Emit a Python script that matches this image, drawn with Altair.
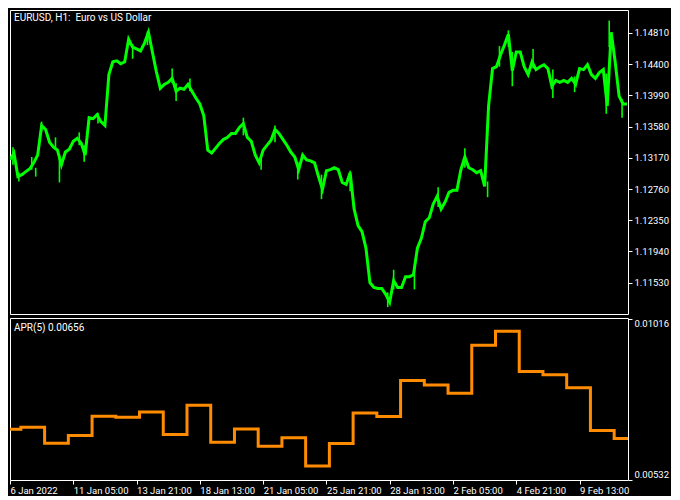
import altair as alt
import pandas as pd

# ---------------- data ----------------
symbol_title = "EURUSD, H1:\u00a0 Euro vs US Dollar"
indicator_name = "APR(5)"

# hourly bar index (1 bar = 1 hour of trading) sampled every 4 bars
price_bars = list(range(0, 625, 4))
price_values = [
    1.13143, 1.13233, 1.12923, 1.12949, 1.12988, 1.13026, 1.13104, 1.13207, 1.13594, 1.13542,
    1.13375, 1.13310, 1.13271, 1.13078, 1.13246, 1.13284, 1.13388, 1.13426, 1.13362, 1.13207,
    1.13697, 1.13684, 1.13736, 1.13645, 1.13594, 1.14264, 1.14432, 1.14445, 1.14406, 1.14432,
    1.14728, 1.14625, 1.14600, 1.14574, 1.14677, 1.14819, 1.14561, 1.14303, 1.14084, 1.14135,
    1.14161, 1.14213, 1.14045, 1.14084, 1.14071, 1.14135, 1.14045, 1.13955, 1.13878, 1.13723,
    1.13271, 1.13233, 1.13297, 1.13362, 1.13413, 1.13439, 1.13491, 1.13491, 1.13568, 1.13620,
    1.13439, 1.13388, 1.13207, 1.13104, 1.13271, 1.13336, 1.13400, 1.13542, 1.13491, 1.13413,
    1.13336, 1.13246, 1.13181, 1.13014, 1.13207, 1.13143, 1.13130, 1.13104, 1.12923, 1.12756,
    1.13001, 1.13014, 1.13039, 1.13014, 1.12846, 1.12820, 1.12975, 1.12498, 1.12279, 1.12201,
    1.11982, 1.11531, 1.11467, 1.11453, 1.11453, 1.11376, 1.11273, 1.11557, 1.11467, 1.11467,
    1.11608, 1.11608, 1.11634, 1.11982, 1.12111, 1.12330, 1.12382, 1.12562, 1.12666, 1.12498,
    1.12588, 1.12717, 1.12743, 1.12743, 1.13014, 1.13181, 1.13039, 1.13014, 1.12975, 1.13001,
    1.12795, 1.13852, 1.14342, 1.14367, 1.14522, 1.14651, 1.14793, 1.14316, 1.14561, 1.14561,
    1.14367, 1.14264, 1.14432, 1.14329, 1.14367, 1.14393, 1.14342, 1.14110, 1.14187, 1.14161,
    1.14187, 1.14161, 1.14213, 1.14135, 1.14342, 1.14329, 1.14393, 1.14264, 1.14213, 1.14290,
    1.14329, 1.13852, 1.14819, 1.14432, 1.13981, 1.13878, 1.13878,
]
# individual hourly bars with long wicks (bar index, low, high)
wick_bars = [3, 9, 22, 26, 32, 46, 50, 70, 75, 89, 124, 139, 164, 168, 182, 236, 254, 268,
             291, 315, 344, 382, 388, 409, 433, 460, 483, 495, 504, 508, 529, 549, 571, 603,
             606, 619]
wick_lows = [1.13078, 1.12859, 1.13014, 1.12923, 1.13517, 1.13271, 1.12846, 1.13336, 1.13117,
             1.13620, 1.14471, 1.14651, 1.14148, 1.13916, 1.14045, 1.13465, 1.13014, 1.13375,
             1.12885, 1.12627, 1.12730, 1.11209, 1.11441, 1.11441, 1.12524, 1.13039, 1.12653,
             1.14367, 1.14625, 1.14110, 1.14342, 1.13955, 1.14032, 1.13749, 1.14625, 1.13697]
wick_highs = [1.13310, 1.12975, 1.13181, 1.13039, 1.13645, 1.13439, 1.13207, 1.13504, 1.13336,
              1.13761, 1.14664, 1.14832, 1.14342, 1.14148, 1.14213, 1.13697, 1.13207, 1.13594,
              1.13117, 1.12949, 1.13001, 1.11402, 1.11699, 1.11724, 1.12782, 1.13297, 1.12859,
              1.14638, 1.14845, 1.14561, 1.14600, 1.14329, 1.14239, 1.14277, 1.14973, 1.13942]
price_ticks = [1.11530, 1.11940, 1.12350, 1.12760, 1.13170, 1.13580, 1.13990, 1.14400, 1.14810]
price_domain = [1.11118, 1.15112]

# APR(5): one value per trading day, starting at the day boundary bar
apr_start_bars = [0, 11, 35, 59, 83, 107, 131, 155, 179, 203, 227, 251, 275, 299, 323,
                  347, 371, 395, 419, 443, 467, 491, 515, 539, 563, 587, 611]
apr_values = [0.00684, 0.00690, 0.00642, 0.00665, 0.00723, 0.00720, 0.00736, 0.00668, 0.00756,
              0.00645, 0.00685, 0.00633, 0.00658, 0.00573, 0.00641, 0.00733, 0.00722, 0.00831,
              0.00817, 0.00792, 0.00937, 0.00979, 0.00858, 0.00848, 0.00809, 0.00680, 0.00656]
apr_last_bar = 625
apr_ticks = [0.00532, 0.01016]
apr_domain = [0.00531, 0.01019]

time_tick_bars = [0, 64, 128, 192, 256, 320, 384, 448, 512, 576]
time_tick_labels = ["6 Jan 2022", "11 Jan 05:00", "13 Jan 21:00", "18 Jan 13:00", "21 Jan 05:00",
                    "25 Jan 21:00", "28 Jan 13:00", "2 Feb 05:00", "4 Feb 21:00", "9 Feb 13:00"]
bar_domain = [0, 625]

# ---------------- chart ----------------
FONT = "Roboto"
W, H1, H2 = 618, 304, 162
GREEN = "#00FF00"
ORANGE = "#FF8C00"

x_scale = alt.Scale(domain=bar_domain, nice=False, zero=False)
p_scale = alt.Scale(domain=price_domain, nice=False, zero=False)
price_axis = alt.Axis(orient="right", values=price_ticks, format=".5f", title=None,
                      labelOverlap=False)

price_df = pd.DataFrame({"bar": price_bars, "price": price_values})
wick_df = pd.DataFrame({"bar": wick_bars, "low": wick_lows, "high": wick_highs})
apr_df = pd.DataFrame({"bar": apr_start_bars + [apr_last_bar],
                       "apr": apr_values + [apr_values[-1]]})

label_expr = ("[" + ",".join("'" + s + "'" for s in time_tick_labels) + "][indexof(["
              + ",".join(str(b) for b in time_tick_bars) + "], datum.value)]")

price_line = alt.Chart(price_df).mark_line(color=GREEN, strokeWidth=3, clip=True).encode(
    x=alt.X("bar:Q", scale=x_scale, axis=None),
    y=alt.Y("price:Q", scale=p_scale, axis=price_axis),
)
wicks = alt.Chart(wick_df).mark_rule(color=GREEN, strokeWidth=1.6, clip=True).encode(
    x=alt.X("bar:Q", scale=x_scale, axis=None),
    y=alt.Y("low:Q", scale=p_scale, axis=price_axis),
    y2="high:Q",
)
top_title = alt.Chart(pd.DataFrame({"t": [symbol_title]})).mark_text(
    align="left", baseline="middle", color="white", font=FONT, fontSize=10
).encode(text="t:N", x=alt.value(4), y=alt.value(7.5))
top = alt.layer(price_line, wicks, top_title).properties(width=W, height=H1)

apr_line = alt.Chart(apr_df).mark_line(color=ORANGE, strokeWidth=3, interpolate="step-after",
                                       clip=True).encode(
    x=alt.X("bar:Q", scale=x_scale,
            axis=alt.Axis(values=time_tick_bars, labelExpr=label_expr, title=None,
                          labelAlign="left", labelFlush=False, labelPadding=1,
                          labelOverlap=False)),
    y=alt.Y("apr:Q", scale=alt.Scale(domain=apr_domain, nice=False, zero=False),
            axis=alt.Axis(orient="right", values=apr_ticks, format=".5f", title=None,
                          labelFlush=True, labelOverlap=False)),
)
apr_title = alt.Chart(pd.DataFrame({"t": [f"{indicator_name} {apr_values[-1]:.5f}"]})).mark_text(
    align="left", baseline="middle", color="white", font=FONT, fontSize=10
).encode(text="t:N", x=alt.value(4), y=alt.value(9.5))
bottom = alt.layer(apr_line, apr_title).properties(width=W, height=H2)

chart = alt.vconcat(top, bottom, spacing=2).properties(
    padding={"left": 1, "top": 1, "right": 1, "bottom": 1},
    background="#000000",
).configure_view(
    stroke="white", strokeWidth=1, fill="#000000"
).configure_axis(
    domain=False, grid=False, ticks=True, tickColor="white", tickSize=4, tickWidth=1,
    labelColor="white", labelFont=FONT, labelFontSize=9.5, labelPadding=2,
)

chart.save("out.html", embed_options={"renderer": "svg", "actions": False})
